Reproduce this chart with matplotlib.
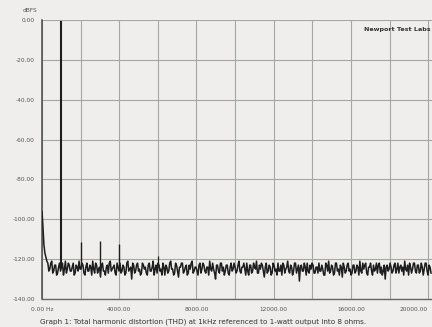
import numpy as np
import matplotlib
matplotlib.use("Agg")
import matplotlib.pyplot as plt

# ---- data ----
freq_step = 50.5  # Hz between noise-floor samples (after interleaving)
noise_db_even = [
    -96, -113, -119, -122, -125, -121, -126, -123, -127, -122, -124, -128, -121, -125, -123, -126, -122, -127, -124, -121,
    -125, -123, -128, -122, -126, -124, -121, -127, -123, -125, -129, -122, -126, -124, -127, -121, -125, -123, -128, -124,
    -122, -126, -124, -127, -121, -125, -130, -123, -126, -122, -125, -127, -123, -124, -128, -122, -126, -121, -125, -127,
    -123, -125, -122, -128, -124, -126, -121, -125, -127, -123, -129, -124, -122, -126, -123, -127, -125, -121, -126, -124,
    -128, -122, -125, -123, -127, -124, -121, -126, -125, -130, -123, -127, -122, -124, -126, -123, -128, -122, -125, -124,
    -126, -121, -127, -124, -125, -122, -128, -123, -126, -124, -121, -127, -125, -123, -129, -122, -126, -124, -127, -123,
    -125, -122, -126, -128, -123, -125, -121, -127, -124, -126, -122, -125, -131, -123, -126, -124, -122, -127, -125, -123,
    -127, -124, -122, -126, -125, -128, -123, -121, -126, -124, -127, -122, -125, -123, -129, -124, -126, -122, -125, -127,
    -123, -126, -124, -121, -127, -125, -122, -128, -124, -126, -123, -125, -127, -122, -124, -126, -130, -123, -125, -124,
    -126, -122, -125, -127, -123, -124, -121, -126, -128, -124, -125, -122, -127, -123, -126, -124, -125, -122, -128, -124,
]
noise_db_odd = [
    -104, -117, -121, -126, -122, -127, -123, -128, -124, -126, -122, -125, -127, -122, -126, -124, -128, -123, -126, -125,
    -122, -127, -124, -126, -123, -128, -125, -122, -127, -124, -123, -126, -128, -123, -122, -126, -124, -127, -122, -126,
    -127, -123, -128, -122, -126, -124, -122, -127, -123, -126, -128, -122, -125, -127, -123, -126, -124, -128, -123, -122,
    -126, -128, -124, -123, -127, -122, -125, -128, -122, -126, -124, -122, -127, -124, -128, -123, -122, -127, -124, -126,
    -123, -127, -122, -126, -124, -128, -125, -122, -127, -123, -126, -122, -126, -128, -123, -127, -124, -126, -122, -127,
    -123, -126, -124, -122, -128, -126, -123, -127, -122, -125, -127, -123, -122, -126, -124, -127, -123, -128, -122, -126,
    -128, -126, -123, -122, -127, -124, -126, -123, -128, -122, -127, -123, -124, -126, -122, -128, -126, -123, -122, -127,
    -124, -127, -126, -123, -128, -122, -126, -127, -123, -128, -122, -126, -128, -124, -122, -127, -123, -126, -128, -123,
    -127, -123, -128, -126, -122, -123, -127, -124, -122, -128, -126, -122, -123, -127, -128, -123, -124, -126, -122, -127,
    -123, -127, -122, -124, -126, -128, -125, -123, -122, -127, -122, -126, -123, -127, -122, -128, -122, -126, -123, -127,
]
spike_freqs = [1000, 2000, 3000, 4000, 6000]
spike_db = [-0.5, -111.5, -111, -112.5, -118.5]
spike_base_db = [-124, -124, -124, -124, -124]
spike_widths = [1.5, 1.0, 1.0, 1.0, 0.9]

x_ticks = [0, 2000, 4000, 6000, 8000, 10000, 12000, 14000, 16000, 18000, 20000]
x_labels = ["0.00 Hz", "", "4000.00", "", "8000.00", "", "12000.00", "", "16000.00", "", "20000.00"]
y_ticks = [0, -20, -40, -60, -80, -100, -120, -140]
y_labels = ["0.00", "-20.00", "-40.00", "-60.00", "-80.00", "-100.00", "-120.00", "-140.00"]

bg = "#efeeec"
ink = "#1e1e1e"
grid_c = "#a6a6a6"

fig = plt.figure(figsize=(4.32, 3.27), dpi=100, facecolor=bg)
ax = fig.add_axes([42 / 432, 28 / 327, 390 / 432, 279 / 327], facecolor=bg)

noise_db = [v for pair in zip(noise_db_even, noise_db_odd) for v in pair]
freqs = np.arange(len(noise_db)) * freq_step
ax.plot(freqs, noise_db, color=ink, lw=1.1, zorder=3)
ax.vlines(spike_freqs, spike_base_db, spike_db, color=ink, lw=spike_widths, zorder=3)

ax.set_xlim(0, 20200)
ax.set_ylim(-140, 0)
ax.set_xticks(x_ticks)
ax.set_xticklabels(x_labels)
ax.set_yticks(y_ticks)
ax.set_yticklabels(y_labels)
ax.tick_params(axis="both", length=0, labelsize=4.2, colors="#555555")
ax.tick_params(axis="x", pad=6)
ax.tick_params(axis="y", pad=5)
ax.get_xticklabels()[-1].set_ha("right")
ax.grid(True, color=grid_c, lw=0.8, zorder=1)
for s in ["top", "right"]:
    ax.spines[s].set_visible(False)
ax.spines["left"].set_color("#4a4a4a")
ax.spines["bottom"].set_color("#666666")
ax.spines["left"].set_linewidth(1.1)
ax.spines["bottom"].set_linewidth(1.0)

fig.text(37 / 432, 1 - 10 / 327, "dBFS", fontsize=4.2, color="#555555", ha="right", va="center")
fig.text(431 / 432, 1 - 29 / 327, "Newport Test Labs", fontsize=4.6, color="#333333", ha="right", va="center",
         fontweight="bold")
fig.text(40 / 432, 1 - 322 / 327,
         "Graph 1: Total harmonic distortion (THD) at 1kHz referenced to 1-watt output into 8 ohms.",
         fontsize=5.2, color="#333333", ha="left", va="center")

fig.savefig("out.png", dpi=100, facecolor=bg)
